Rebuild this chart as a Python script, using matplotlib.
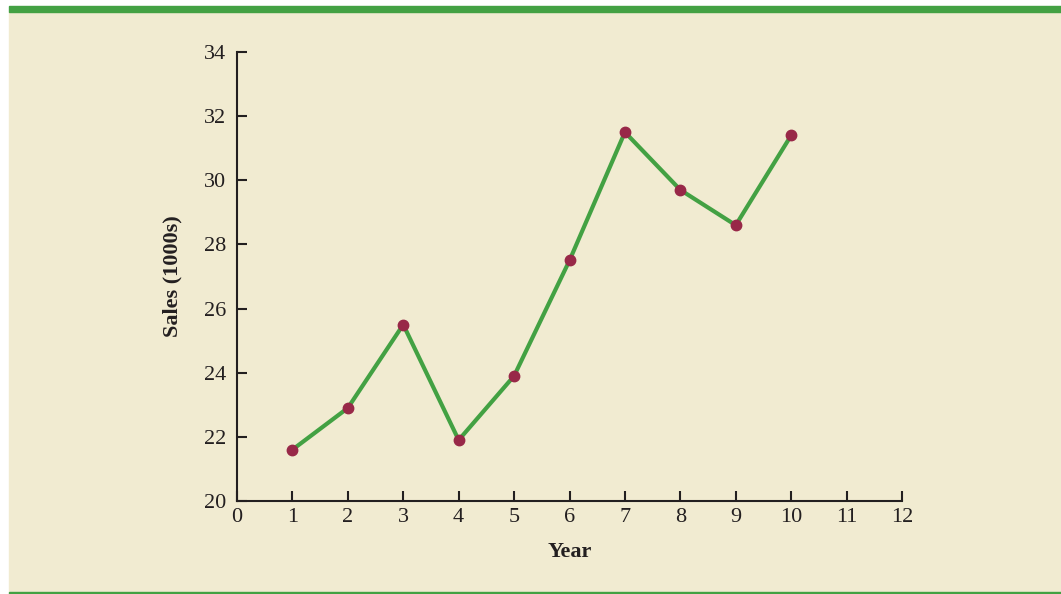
import numpy as np
import matplotlib.pyplot as plt
from matplotlib.patches import Rectangle

plt.rcParams['font.family'] = ['Liberation Serif', 'DejaVu Serif']

# 数据
year = [1, 2, 3, 4, 5, 6, 7, 8, 9, 10]
sales = [21.6, 22.9, 25.5, 21.9, 23.9, 27.5, 31.5, 29.7, 28.6, 31.4]
x_ticks = list(range(0, 13))
y_ticks = list(range(20, 35, 2))

bg = '#f1ebd1'
green = '#43a143'
dot = '#982848'

W, H = 1061, 594
fig = plt.figure(figsize=(W / 100, H / 100), dpi=100, facecolor='white')

# 背景面板和绿色横条
fig.patches.append(Rectangle((9 / W, 1 - 592 / H), (W - 9) / W, 580 / H,
                             transform=fig.transFigure, color=bg, zorder=-5))
fig.patches.append(Rectangle((9 / W, 1 - 12 / H), (W - 9) / W, 6 / H,
                             transform=fig.transFigure, color=green, zorder=-5))
fig.patches.append(Rectangle((9 / W, 0), (W - 9) / W, 2 / H,
                             transform=fig.transFigure, color=green, zorder=-5))

ax = fig.add_axes([237 / W, 1 - 501 / H, (902 - 237) / W, (501 - 52) / H])
ax.set_facecolor('none')

ax.plot(year, sales, color=green, lw=3, zorder=2, solid_joinstyle='miter')
ax.plot(year, sales, 'o', color=dot, ms=7.5, zorder=3)

ax.set_xlim(0, 12)
ax.set_ylim(20, 34)
ax.set_xticks(x_ticks)
ax.set_yticks(y_ticks)
for s in ['top', 'right']:
    ax.spines[s].set_visible(False)
for s in ['left', 'bottom']:
    ax.spines[s].set_linewidth(1.5)
    ax.spines[s].set_color('#231f20')
ax.tick_params(direction='in', length=7.5, width=1.5, color='#231f20',
               labelsize=16, labelcolor='#231f20', pad=5)
ax.tick_params(axis='y', pad=8)

ax.set_xlabel('Year', fontsize=16, fontweight='bold', color='#231f20', labelpad=11)
ax.set_ylabel('Sales (1000s)', fontsize=16, fontweight='bold', color='#231f20', labelpad=15)

fig.savefig('out.png', dpi=100, facecolor='white')
